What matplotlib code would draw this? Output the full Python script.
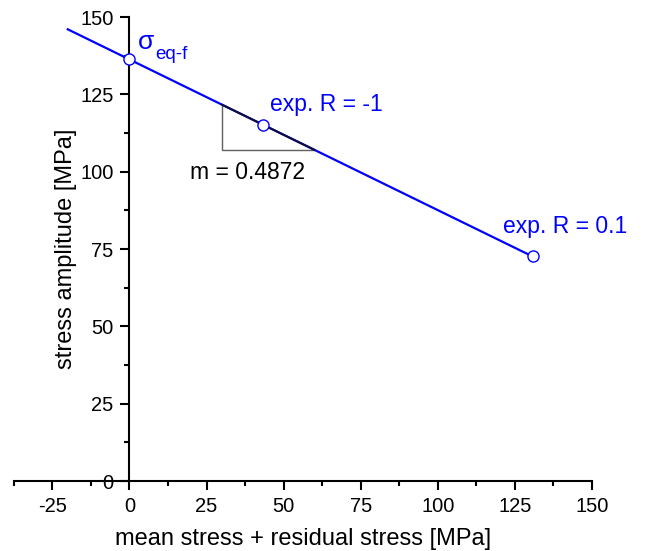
import numpy as np
import matplotlib.pyplot as plt
from matplotlib.ticker import MultipleLocator

plt.rcParams['font.family'] = ['Liberation Sans', 'DejaVu Sans']
plt.rcParams['axes.unicode_minus'] = False

# experimental points: intercept, R = -1, R = 0.1
x_pts = [0.0, 43.2, 130.8]
y_pts = [136.3, 115.2, 72.6]
slope = 0.4872
intercept = 136.3
x_line = [-20.0, 130.8]
tri_x = [30.0, 60.0]

fig = plt.figure(figsize=(6.46, 5.51), dpi=100)
ax = fig.add_axes([0.0214, 0.127, 0.895, 0.842])

xl = np.array(x_line)
ax.plot(xl, intercept - slope * xl, color='#0000ff', lw=1.6, zorder=2)

# slope triangle
y0 = intercept - slope * tri_x[0]
y1 = intercept - slope * tri_x[1]
ax.plot([tri_x[0], tri_x[0], tri_x[1]], [y0, y1, y1], color='#606060', lw=1.0, zorder=1)
ax.plot(tri_x, [y0, y1], color='#101030', lw=1.4, zorder=3)

ax.plot(x_pts, y_pts, 'o', ms=8, mfc='white', mec='#0000ff', mew=1.0, zorder=4)

ax.text(2.6, 141.8, 'σ', color='#0000ff', fontsize=19, va='center', ha='left')
ax.text(8.4, 137.8, 'eq-f', color='#0000ff', fontsize=13.5, va='center', ha='left')
ax.text(45.5, 121.6, 'exp. R = -1', color='#0000ff', fontsize=16.5, va='center', ha='left')
ax.text(121.3, 82.4, 'exp. R = 0.1', color='#0000ff', fontsize=16.5, va='center', ha='left')
ax.text(19.6, 99.9, 'm = 0.4872', color='black', fontsize=16.5, va='center', ha='left')

ax.set_xlim(-37.5, 150)
ax.set_ylim(0, 150)
ax.spines['left'].set_position(('data', 0))
ax.spines['top'].set_visible(False)
ax.spines['right'].set_visible(False)
for s in ('left', 'bottom'):
    ax.spines[s].set_linewidth(1.5)

ax.xaxis.set_major_locator(MultipleLocator(25))
ax.xaxis.set_minor_locator(MultipleLocator(12.5))
ax.yaxis.set_major_locator(MultipleLocator(25))
ax.yaxis.set_minor_locator(MultipleLocator(12.5))
ax.set_xticks(np.arange(-25, 151, 25))
ax.tick_params(which='major', direction='out', length=6.5, width=1.5, labelsize=14.5, pad=5)
ax.tick_params(which='minor', direction='out', length=3.3, width=1.5)

ax.set_xlabel('mean stress + residual stress [MPa]', fontsize=17, labelpad=9)
ax.set_ylabel('stress amplitude [MPa]', fontsize=17)
ax.yaxis.set_label_coords(0.11, 0.5)

fig.savefig('out.png', dpi=100)
